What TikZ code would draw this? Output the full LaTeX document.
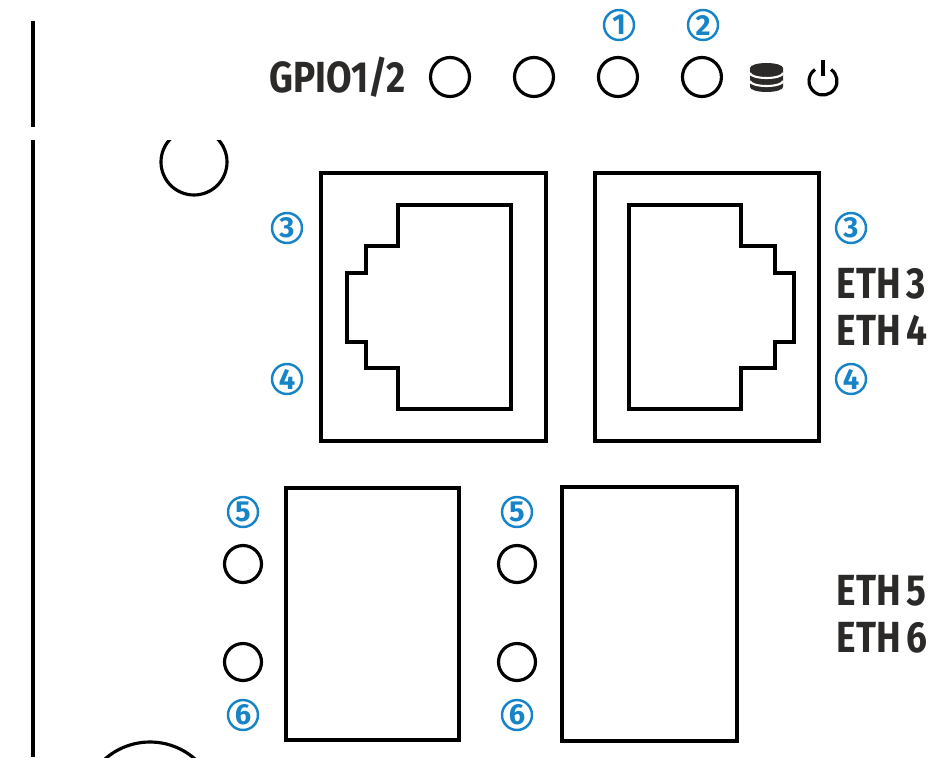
\documentclass[tikz,border=0pt]{standalone}
\usepackage{fontspec}
\newfontfamily\panelfont{Fira Sans}
\usetikzlibrary{positioning}
\definecolor{numblue}{HTML}{1784C7}
\definecolor{ink}{HTML}{2B2A29}
\newcommand{\bigtxt}{\panelfont\bfseries\fontsize{24.8}{28}\selectfont}
\newcommand{\smalltxt}{\panelfont\bfseries\fontsize{16.5}{18}\selectfont}
\newcommand{\narrow}[1]{\scalebox{0.85}[1]{#1}}

\begin{document}
\begin{tikzpicture}[x=0.02cm, y=-0.02cm, line width=1.8pt, node distance=1.68cm,
	led/.style={circle, draw, line width=1.8pt, minimum size=0.78cm, inner sep=0pt},
	num/.style={circle, draw=numblue, line width=1.4pt, text=numblue, font=\smalltxt, minimum size=0.6cm, inner sep=0pt},
	txt/.style={anchor=base west, inner sep=0pt, text=ink, font=\bigtxt}]
	\useasboundingbox (0,0) rectangle (935,757);

	% Frame and mounting holes
	\draw (33,21) -- (33,127);
	\draw (33,140) -- (33,757);
	\begin{scope}
		\clip (0,140) rectangle (935,757);
		\draw (194,162) circle (33);
		\draw (150,810) circle (68);
	\end{scope}

	% Top row {GPIO1/2, LEDs, icons}
	\node [txt] 	(gpio) 	at (268,92) 	{\narrow{GPIO1/2}};
	\node [led] 	(led1) 	at (450,77) 	{};
	\node [led] 	(led2) 	[right of=led1] {};
	\node [led] 	(led3) 	[right of=led2] {};
	\node [led] 	(led4) 	[right of=led3] {};
	\node [num] 	(n1) 	at (619,25) 	{1};
	\node [num] 	(n2) 	at (703,25) 	{2};

	% Storage icon
	\fill [ink] (750,68) -- (750,87) arc[start angle=180, end angle=0, x radius=16.5, y radius=5]
		-- (783,68) arc[start angle=0, end angle=-180, x radius=16.5, y radius=5] -- cycle;
	\draw [white, line width=1.2pt] (750,73) arc[start angle=180, end angle=0, x radius=16.5, y radius=5];
	\draw [white, line width=1.2pt] (750,81) arc[start angle=180, end angle=0, x radius=16.5, y radius=5];

	% Power icon
	\draw [line cap=butt] ([shift={(-55:14)}]823,81) arc[start angle=-55, end angle=235, radius=14];
	\draw (823,60) -- (823,76);

	% RJ45 jacks {ETH3, ETH4}
	\draw [line width=2pt] (321,173) rectangle (546,441);
	\draw [line width=2pt] (398,205) -- (511,205) -- (511,409) -- (398,409) -- (398,368) -- (366,368)
		-- (366,342) -- (347,342) -- (347,273) -- (366,273) -- (366,246) -- (398,246) -- cycle;
	\draw [line width=2pt] (595,173) rectangle (819,441);
	\draw [line width=2pt] (629,205) -- (741,205) -- (741,246) -- (775,246) -- (775,273) -- (794,273)
		-- (794,342) -- (775,342) -- (775,368) -- (741,368) -- (741,409) -- (629,409) -- cycle;
	\node [num] 	(n3l) 	at (287,228) 	{3};
	\node [num] 	(n4l) 	at (287,379) 	{4};
	\node [num] 	(n3r) 	at (851,228) 	{3};
	\node [num] 	(n4r) 	at (851,379) 	{4};
	\node [txt] 	(eth3) 	at (835,298) 	{\narrow{ETH\,3}};
	\node [txt] 	(eth4) 	at (835,345) 	{\narrow{ETH\,4}};

	% SFP cages {ETH5, ETH6}
	\draw [line width=2pt] (286,488) rectangle (459,740);
	\draw [line width=2pt] (562,487) rectangle (737,741);
	\foreach \x/\s in {243/l, 517/r} {
		\node [num] 				(n5\s) 	at (\x,512) {5};
		\node [led, minimum size=0.74cm] 	(led5\s) at (\x,564) {};
		\node [led, minimum size=0.74cm] 	(led6\s) at (\x,662) {};
		\node [num] 				(n6\s) 	at (\x,715) {6};
	}
	\node [txt] 	(eth5) 	at (835,605) 	{\narrow{ETH\,5}};
	\node [txt] 	(eth6) 	at (835,652) 	{\narrow{ETH\,6}};
\end{tikzpicture}
\end{document}
